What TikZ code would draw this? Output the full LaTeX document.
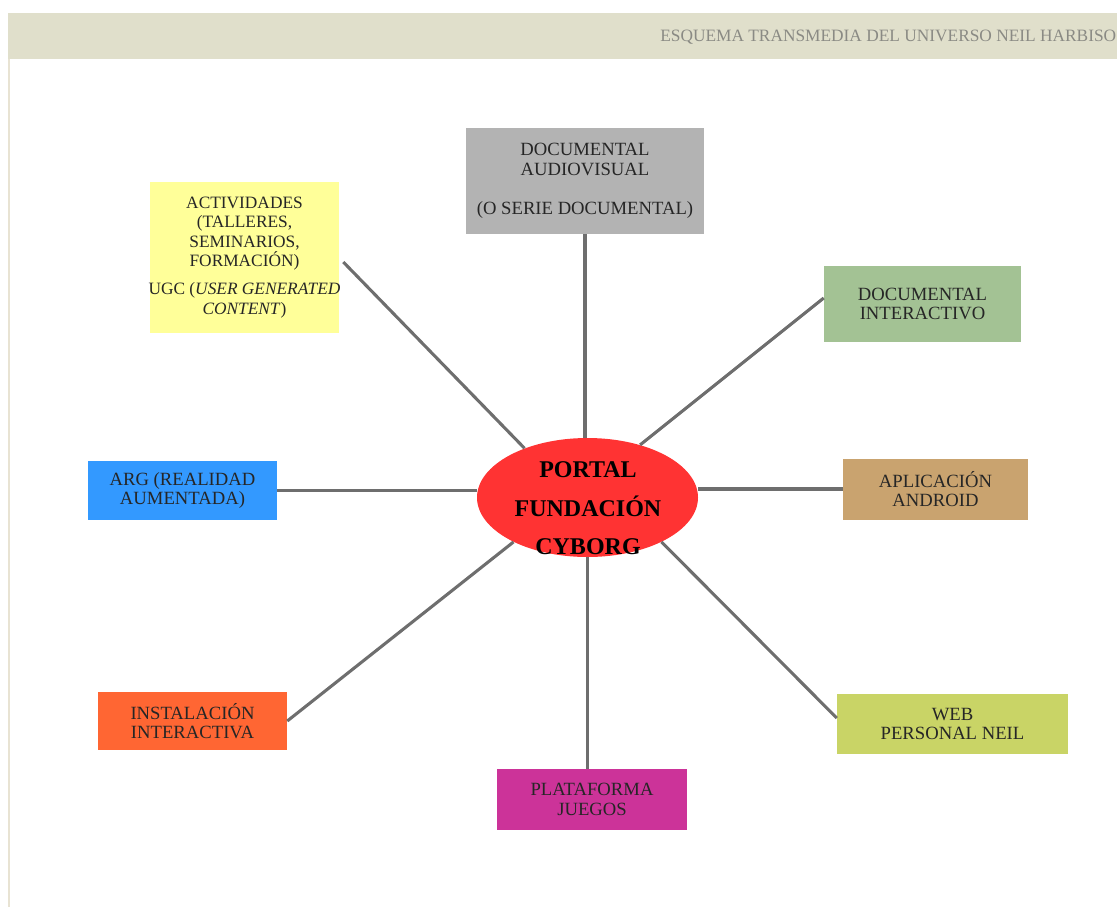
\documentclass[tikz,border=0pt]{standalone}
\usepackage{fontspec}
\setmainfont{Liberation Serif}
\usetikzlibrary{shapes.geometric}
\definecolor{band}{HTML}{E0DFCB}
\definecolor{edgeline}{HTML}{E8E3D3}
\definecolor{chead}{HTML}{8A8A84}
\definecolor{cgray}{HTML}{B3B3B3}
\definecolor{cyellow}{HTML}{FFFF99}
\definecolor{cgreen}{HTML}{A3C294}
\definecolor{cbrown}{HTML}{C9A36F}
\definecolor{cblue}{HTML}{3399FF}
\definecolor{corange}{HTML}{FF6633}
\definecolor{cmag}{HTML}{CC3399}
\definecolor{clime}{HTML}{C9D466}
\definecolor{cred}{HTML}{FF3333}
\definecolor{clink}{HTML}{6E6E6E}
\definecolor{ctxt}{HTML}{262626}
\tikzset{
  boxnode/.style={rectangle, inner sep=0pt, align=center, text=ctxt,
    font=\fontsize{14}{14.6}\selectfont},
  boxsize/.style 2 args={minimum width=#1*0.75pt, minimum height=#2*0.75pt},
  link/.style={draw=clink, line width=2.3pt}
}
\begin{document}
\begin{tikzpicture}[x=0.75pt,y=-0.75pt]
\useasboundingbox (0,0) rectangle (1117,907);
\fill[white] (0,0) rectangle (1117,907);
\fill[band] (8,13) rectangle (1117,59);
\draw[edgeline, line width=1.5pt] (8.5,59) -- (8.5,907);
\node[anchor=west, inner sep=0pt, text=chead, font=\fontsize{13}{15}\selectfont] (title) at (660,37.5) {ESQUEMA TRANSMEDIA DEL UNIVERSO NEIL HARBISO};

\node[boxnode, fill=cgray, boxsize={238}{106}] (doc) at (585,181) {DOCUMENTAL\\AUDIOVISUAL\\[14.6pt](O SERIE DOCUMENTAL)};
\node[boxnode, fill=cyellow, boxsize={189}{151}, font=\fontsize{13}{14.6}\selectfont] (act) at (244.5,257.5) {ACTIVIDADES\\(TALLERES,\\SEMINARIOS,\\FORMACIÓN)\\[6.5pt]\makebox[0pt]{UGC (\textit{USER GENERATED}}\\\textit{CONTENT})};
\node[boxnode, fill=cgreen, boxsize={197}{76}] (docint) at (922.5,304) {DOCUMENTAL\\INTERACTIVO};
\node[boxnode, fill=cbrown, boxsize={185}{61}] (android) at (935.5,489) {APLICACIÓN\\ANDROID};
\node[boxnode, fill=cblue, boxsize={189}{59}] (arg) at (182.5,490.5) {ARG (REALIDAD\\AUMENTADA)};
\node[boxnode, fill=corange, boxsize={189}{58}] (inst) at (192.5,721) {INSTALACIÓN\\INTERACTIVA};
\node[boxnode, fill=cmag, boxsize={190}{61}] (plat) at (592,799.5) {PLATAFORMA\\JUEGOS};
\node[boxnode, fill=clime, boxsize={231}{60}] (web) at (952.5,724) {WEB\\PERSONAL NEIL};

\node[ellipse, fill=cred, inner sep=0pt, minimum width=221*0.75pt, minimum height=119*0.75pt] (ell) at (587.5,497.5) {};
\node[inner sep=0pt, align=center, text=black, font=\bfseries\fontsize{18}{28.9}\selectfont] (portal) at (588,508.5) {PORTAL\\FUNDACIÓN\\CYBORG};

\draw[link] (doc.south) -- (doc.south |- ell.north);
\draw[link] ([shift={(4,4.5)}]act.east) -- (ell.142);
\draw[link] ([yshift=4.5pt]docint.west) -- (ell.45);
\draw[link] (android.west) -- (android.west -| ell.east);
\draw[link] (arg.east) -- (arg.east -| ell.west);
\draw[link] (inst.east) -- (ell.211);
\draw[link] (ell.south) -- (ell.south |- plat.north);
\draw[link] ([yshift=4.5pt]web.west) -- (ell.329);
\end{tikzpicture}
\end{document}
